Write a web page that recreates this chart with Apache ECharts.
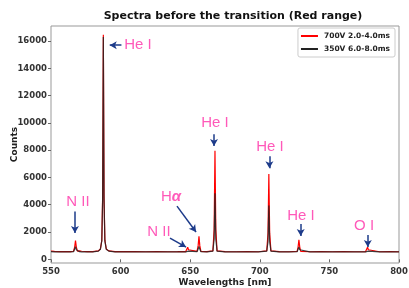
<!DOCTYPE html>
<html>
<head>
<meta charset="utf-8">
<script src="https://cdn.jsdelivr.net/npm/echarts@6/dist/echarts.min.js"></script>
<style>
  html, body { margin: 0; padding: 0; background: #fff; }
  #spectra-chart { width: 409px; height: 288px; }
</style>
</head>
<body>
<div id="spectra-chart"></div>
<script>
// wavelengths in nm, shared by both spectra
const wavelengths = [
  550.0, 551.0, 552.5, 556, 560, 564, 566.2, 567.0, 567.6, 568.2, 569.0, 570.5, 571.2, 572.0,
  576, 580, 584.0, 585.5, 586.5, 587.1, 587.6, 588.1, 588.7, 589.7, 591.5, 596, 602, 610,
  618, 626, 634, 641, 646.8, 647.6, 648.2, 648.8, 649.6, 654.9, 655.7, 656.3, 656.9, 657.7,
  662, 666.3, 667.2, 667.8, 668.4, 669.3, 675, 683, 691, 699, 705.0, 705.9, 706.5, 707.1,
  708.0, 714, 721, 726.8, 727.5, 728.1, 728.7, 729.4, 736, 744, 752, 760, 768, 776.0,
  776.8, 777.4, 778.0, 778.8, 786, 794, 800
];
// 700V 2.0-4.0ms
const countsHigh = [
  600, 680, 580, 560, 565, 560, 590, 900, 1380, 900, 600, 620, 680, 590,
  565, 560, 620, 760, 1400, 4600, 16450, 4600, 1400, 760, 620, 570, 560, 565,
  555, 560, 555, 560, 570, 700, 880, 700, 570, 580, 1000, 1680, 1000, 580,
  570, 620, 2200, 7950, 2200, 620, 560, 555, 560, 555, 620, 1900, 6250, 1900,
  620, 560, 555, 575, 900, 1420, 900, 575, 555, 560, 555, 560, 555, 570,
  700, 880, 700, 570, 555, 560, 555
];
// 350V 6.0-8.0ms
const countsLow = [
  560, 600, 550, 545, 545, 540, 560, 700, 930, 700, 560, 560, 590, 550,
  545, 540, 600, 740, 1350, 4400, 16300, 4400, 1350, 740, 600, 550, 545, 545,
  540, 545, 540, 545, 550, 600, 650, 600, 550, 560, 750, 950, 750, 560,
  550, 600, 1500, 4850, 1500, 600, 545, 540, 545, 540, 600, 1300, 3950, 1300,
  600, 545, 540, 560, 700, 900, 700, 560, 540, 545, 540, 545, 540, 550,
  600, 650, 600, 550, 540, 545, 540
];
const seriesNames = ["700V 2.0-4.0ms", "350V 6.0-8.0ms"];
const yTicks = [0, 2000, 4000, 6000, 8000, 10000, 12000, 14000, 16000];

// line labels: [wavelength, counts] of the text, and arrow from -> to
const noteTexts = ["He I", "N II", "{h|H}{a|α}", "N II", "He I", "He I", "He I", "O I"];
const notePos = [
  [612.5, 15690], [569.4, 4230], [636.2, 4560], [627.6, 2000],
  [667.8, 9980], [707.3, 8220], [729.6, 3200], [774.9, 2440]
];
const arrowFrom = [
  [600.6, 15690], [567.2, 3500], [640.5, 3900], [635.5, 1560],
  [667.1, 9170], [706.9, 7560], [729.4, 2580], [777.6, 1780]
];
const arrowTo = [
  [592.2, 15690], [567.2, 1920], [654.2, 2000], [647.0, 900],
  [667.1, 8300], [706.9, 6680], [729.4, 1700], [777.6, 900]
];

const chartDom = document.getElementById("spectra-chart");
const myChart = echarts.init(chartDom);

const font = "DejaVu Sans";
const noteColor = "#ff2fa8";
const arrowColor = "#1d3b8a";

const option = {
  animation: false,
  backgroundColor: "#fff",
  title: {
    text: "Spectra before the transition (Red range)",
    left: 228,
    textAlign: "center",
    top: 6,
    textStyle: { fontFamily: font, fontSize: 11, fontWeight: "bold", color: "#111" },
  },
  legend: {
    data: seriesNames,
    orient: "vertical",
    right: 14,
    top: 28,
    icon: "rect",
    itemWidth: 17,
    itemHeight: 2,
    itemGap: 5,
    padding: [4, 5, 4, 3],
    borderColor: "#ccc",
    borderWidth: 1,
    borderRadius: 2,
    textStyle: { fontFamily: font, fontSize: 7.5, fontWeight: "bold", color: "#222", padding: [0, 0, 0, 1] },
  },
  grid: {
    left: 51,
    right: 10,
    top: 26,
    bottom: 25,
    outerBoundsMode: "none",
    containLabel: false,
    show: true,
    borderColor: "#999",
    borderWidth: 1,
  },
  xAxis: {
    type: "value",
    min: 550,
    max: 800,
    interval: 50,
    name: "Wavelengths [nm]",
    nameLocation: "middle",
    nameGap: 15,
    nameMoveOverlap: false,
    nameTextStyle: { fontFamily: font, fontSize: 9, fontWeight: "bold", color: "#222" },
    axisLine: { show: false },
    axisTick: { show: true, length: 3, lineStyle: { color: "#666" } },
    axisLabel: { margin: 4, fontFamily: font, fontSize: 8.5, fontWeight: "bold", color: "#333" },
    splitLine: { show: false },
  },
  yAxis: {
    type: "value",
    min: -270,
    max: 17100,
    name: "Counts",
    nameLocation: "middle",
    nameGap: 32,
    nameMoveOverlap: false,
    nameTextStyle: { fontFamily: font, fontSize: 9, fontWeight: "bold", color: "#222" },
    axisLine: { show: false },
    axisTick: { show: true, length: 3, customValues: yTicks, lineStyle: { color: "#666" } },
    axisLabel: {
      margin: 4,
      customValues: yTicks,
      formatter: (v) => String(v),
      fontFamily: font,
      fontSize: 8.5,
      fontWeight: "bold",
      color: "#333",
    },
    splitLine: { show: false },
  },
  series: [
    {
      name: seriesNames[0],
      type: "line",
      showSymbol: false,
      color: "#ff0000",
      lineStyle: { width: 1.2 },
      data: wavelengths.map((w, i) => [w, countsHigh[i]]),
    },
    {
      name: seriesNames[1],
      type: "line",
      showSymbol: false,
      color: "#222",
      lineStyle: { width: 1.2, opacity: 0.85 },
      data: wavelengths.map((w, i) => [w, countsLow[i]]),
    },
    {
      name: "notes",
      type: "scatter",
      symbolSize: 0,
      silent: true,
      z: 5,
      data: notePos.map((p, i) => [p[0], p[1], noteTexts[i]]),
      label: {
        show: true,
        position: "inside",
        formatter: (p) => p.value[2],
        fontFamily: "Liberation Sans",
        fontSize: 15,
        color: noteColor,
        rich: {
          h: { fontFamily: "Liberation Sans", fontSize: 15, color: noteColor },
          a: { fontFamily: "Liberation Sans", fontSize: 15, color: noteColor, fontWeight: "bold", fontStyle: "italic" },
        },
      },
      markLine: {
        silent: true,
        symbol: ["none", "arrow"],
        symbolSize: [6, 7],
        lineStyle: { color: arrowColor, width: 1.5, type: "solid" },
        label: { show: false },
        data: arrowFrom.map((a, i) => [{ coord: a }, { coord: arrowTo[i] }]),
      },
    },
  ],
};

myChart.setOption(option);
</script>
</body>
</html>
